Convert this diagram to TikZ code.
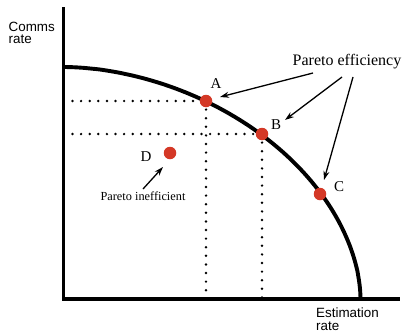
\documentclass[tikz,border=0pt]{standalone}
\usepackage{fontspec}
\setmainfont{Liberation Serif}
\setsansfont{Liberation Sans}
\usetikzlibrary{arrows.meta}
\definecolor{dotred}{RGB}{212,56,38}
\begin{document}
\begin{tikzpicture}[x=1pt,y=-1pt,
  axis/.style={line width=3.6pt},
  frontier/.style={line width=3.9pt},
  dotline/.style={line width=2.7pt, dash pattern=on 0pt off 8.6pt, line cap=round},
  pt/.style={circle, fill=dotred, minimum size=12.5pt, inner sep=0pt},
  lbl/.style={font=\fontsize{15}{15}\selectfont, inner sep=0pt},
  axlbl/.style={font=\sffamily\fontsize{13.4}{12.2}\selectfont, align=left, inner sep=0pt, anchor=north west},
  arr/.style={-{Stealth[length=9pt,width=6pt]}, line width=1.3pt}
]
\useasboundingbox (0,0) rectangle (406,332);
% axes
\coordinate (O) at (63.5,299);
\coordinate (ytop) at (63.5,7);
\coordinate (xend) at (400,299);
% dotted guide lines (under points)
\coordinate (Ap) at (206,101);
\coordinate (Bp) at (262,134);
\draw[dotline] (Ap -| O) ++(9,0) -- (Ap);
\draw[dotline] (Ap) -- (Ap |- O);
\draw[dotline] (Bp -| O) ++(9,0) -- (Bp);
\draw[dotline] (Bp) -- (Bp |- O);
% frontier
\draw[frontier] plot[domain=0.01:89.99, samples=80, smooth]
  ({63.5+297*cos(\x)^(1.081)}, {299-232*sin(\x)^(1.081)});
\draw[axis] (ytop) -- (O) -- (xend);
% points
\node[pt] (A) at (Ap) {};
\node[pt] (B) at (Bp) {};
\node[pt] (C) at (320,194) {};
\node[pt] (D) at (170,153) {};
\node[lbl] (Al) at (216,84) {A};
\node[lbl] (Bl) at (276,125) {B};
\node[lbl] (Cl) at (339,187) {C};
\node[lbl] (Dl) at (146,157) {D};
% annotations
\node[inner sep=0pt, font=\fontsize{16}{16}\selectfont] (pe) at (347,62) {Pareto efficiency};
\node[inner sep=0pt, font=\fontsize{12.3}{12}\selectfont] (pi) at (143,196) {Pareto inefficient};
\coordinate (pe1) at (313,73);
\coordinate (pe2) at (342,77);
\coordinate (pe3) at (353,77);
\coordinate (tA) at (220,97);
\coordinate (tB) at (285,120);
\coordinate (tC) at (324,180);
\draw[arr] (pe1) -- (tA);
\draw[arr] (pe2) -- (tB);
\draw[arr] (pe3) -- (tC);
\coordinate (pi1) at (143,189);
\coordinate (tD) at (163,167);
\draw[arr] (pi1) -- (tD);
% axis labels
\node[axlbl] (yl) at (8.5,21.5) {Comms\\rate};
\node[axlbl] (xl) at (316,308) {Estimation\\rate};
\end{tikzpicture}
\end{document}
